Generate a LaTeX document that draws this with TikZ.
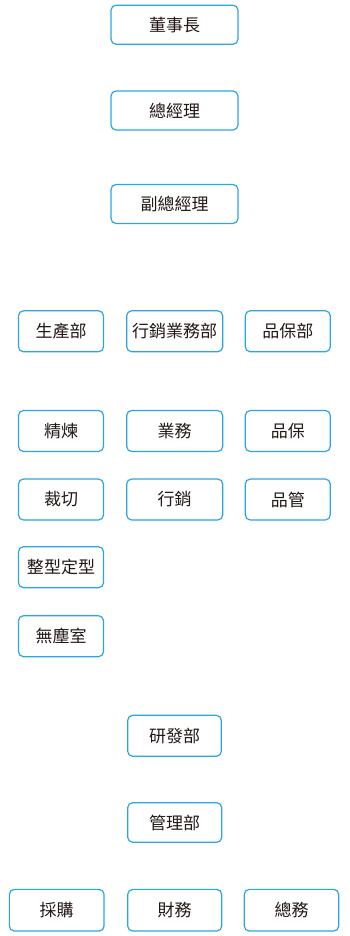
\documentclass[tikz,border=0pt]{standalone}
\usepackage{fontspec}
\setmainfont{Noto Sans CJK TC}
\definecolor{boxblue}{HTML}{2AA7E2}
\definecolor{txt}{HTML}{231815}
\begin{document}
\begin{tikzpicture}[x=1pt,y=-1pt,
  box/.style={draw=boxblue, line width=1.2pt, rounded corners=5pt, fill=white,
    text=txt, inner sep=0pt, font=\fontsize{17}{19}\selectfont,
    minimum height=40pt}]
\useasboundingbox (0,0) rectangle (350,936);
\node[box, minimum width=127pt, minimum height=39pt] (dsz) at (174.5,24.7) {董事長};
\node[box, minimum width=127pt, minimum height=39pt] (zjl) at (174.5,110.5) {總經理};
\node[box, minimum width=127pt, minimum height=39pt] (fzjl) at (174.5,204) {副總經理};
\node[box, minimum width=85pt, minimum height=41pt] (scb) at (61,331.3) {生產部};
\node[box, minimum width=96pt, minimum height=41pt] (xxywb) at (174.7,331.3) {行銷業務部};
\node[box, minimum width=85pt, minimum height=41pt] (pbb) at (287.8,331.3) {品保部};
\node[box, minimum width=85pt, minimum height=41pt] (jl) at (61,431) {精煉};
\node[box, minimum width=96pt, minimum height=41pt] (yw) at (174.7,431) {業務};
\node[box, minimum width=85pt, minimum height=41pt] (pb) at (287.8,431) {品保};
\node[box, minimum width=85pt, minimum height=41pt] (cq) at (61,499.5) {裁切};
\node[box, minimum width=96pt, minimum height=41pt] (xx) at (174.7,499.5) {行銷};
\node[box, minimum width=85pt, minimum height=41pt] (pg) at (287.8,499.5) {品管};
\node[box, minimum width=85pt, minimum height=41pt] (zxdx) at (61,567.2) {整型定型};
\node[box, minimum width=85pt, minimum height=41pt] (wcs) at (61,636.2) {無塵室};
\node[box, minimum width=93.6pt, minimum height=41pt] (yfb) at (174.5,735.8) {研發部};
\node[box, minimum width=94pt, minimum height=39.6pt] (glb) at (174.7,822.5) {管理部};
\node[box, minimum width=94.7pt, minimum height=41.7pt] (cg) at (56.7,910.2) {採購};
\node[box, minimum width=94pt, minimum height=41.7pt] (cw) at (174.7,910.2) {財務};
\node[box, minimum width=94.4pt, minimum height=41.7pt] (zw) at (291.5,910.2) {總務};
\end{tikzpicture}
\end{document}
